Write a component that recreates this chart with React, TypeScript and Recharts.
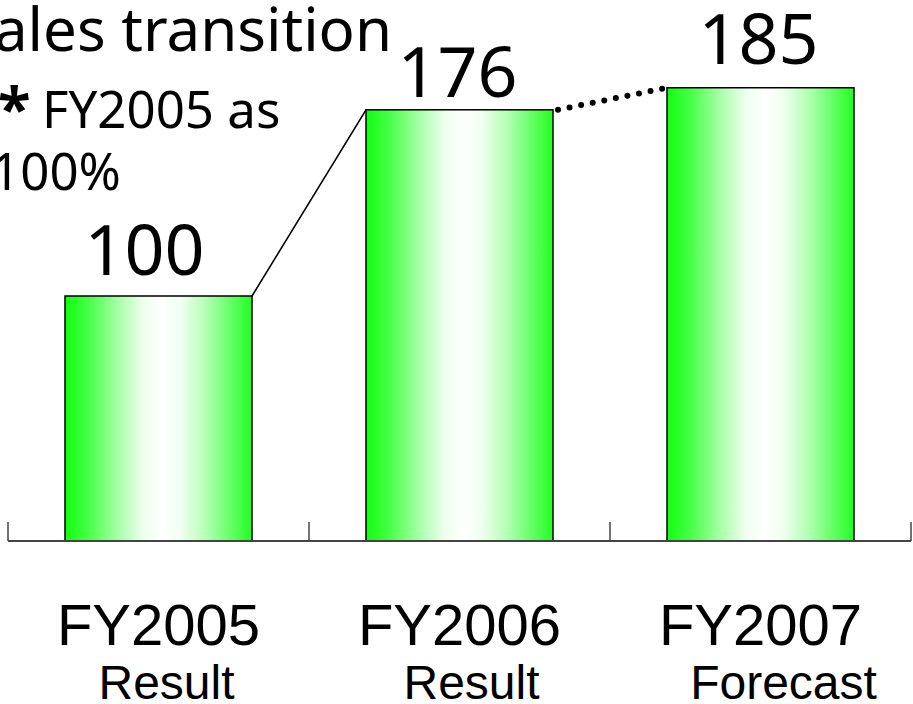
import React from "react";
import { BarChart, Bar, XAxis, YAxis, LabelList } from "recharts";

const years = ["FY2005", "FY2006", "FY2007"];
const kinds = ["Result", "Result", "Forecast"];
const sales = [100, 176, 185];

const data = years.map((year, i) => ({ year, kind: kinds[i], value: sales[i] }));

// small visual nudges for the texts (not data)
const labelShift = [-14, -2, -2];
const labelGap = [21, 13, 24];
const kindShift = [8, 12, 23];

const numFont = "'Noto Sans', 'DejaVu Sans', sans-serif";
const axisFont = "'Liberation Sans', Arial, sans-serif";

// top corners of the bars, filled while the bars are drawn
const tops: { x: number; y: number; w: number }[] = [];

const GradientBar = (props: any) => {
  const { x, y, width, height, index } = props;
  tops[index] = { x, y, w: width };
  const prev = index > 0 ? tops[index - 1] : null;
  return (
    <g>
      <rect
        x={x}
        y={y}
        width={width}
        height={height}
        fill="url(#barFill)"
        stroke="#000"
        strokeWidth={1.5}
      />
      {prev && (
        <line
          x1={prev.x + prev.w + (index === 2 ? 5 : 0)}
          y1={prev.y}
          x2={x}
          y2={y}
          stroke="#000"
          strokeWidth={index === 1 ? 1.6 : 6}
          strokeDasharray={index === 2 ? "0 11.8" : undefined}
          strokeLinecap="round"
        />
      )}
    </g>
  );
};

const ValueLabel = (props: any) => {
  const { x, y, width, value, index } = props;
  return (
    <text
      x={x + width / 2 + labelShift[index]}
      y={y - labelGap[index]}
      textAnchor="middle"
      fontFamily={numFont}
      fontSize={70}
      fill="#000"
    >
      {value}
    </text>
  );
};

const YearTick = (props: any) => {
  const { x, y, payload, index } = props;
  const half = payload.offset || 150.5;
  return (
    <g>
      <line x1={x - half} y1={y - 19} x2={x - half} y2={y} stroke="#444" strokeWidth={1.5} />
      {index === years.length - 1 && (
        <line x1={x + half} y1={y - 19} x2={x + half} y2={y} stroke="#444" strokeWidth={1.5} />
      )}
      <text x={x} y={y + 104} textAnchor="middle" fontFamily={axisFont} fontSize={58} fill="#000">
        {payload.value}
      </text>
      <text
        x={x + kindShift[index]}
        y={y + 158}
        textAnchor="middle"
        fontFamily={axisFont}
        fontSize={48}
        fill="#000"
      >
        {kinds[index]}
      </text>
    </g>
  );
};

const App = () => {
  return (
    <div style={{ position: "absolute", left: 0, top: 0, width: 913, height: 704, background: "#fff" }}>
      <BarChart
        width={913}
        height={704}
        data={data}
        margin={{ top: 2, right: 2, left: 8, bottom: 0 }}
      >
        <defs>
          <linearGradient id="barFill" x1="0" y1="0" x2="1" y2="0">
            <stop offset="0%" stopColor="#11ff11" />
            <stop offset="12%" stopColor="#44ff44" />
            <stop offset="30%" stopColor="#b0ffb0" />
            <stop offset="42%" stopColor="#eeffee" />
            <stop offset="52%" stopColor="#ffffff" />
            <stop offset="62%" stopColor="#f0fff0" />
            <stop offset="76%" stopColor="#b0ffb0" />
            <stop offset="90%" stopColor="#5cff5c" />
            <stop offset="100%" stopColor="#22ff22" />
          </linearGradient>
        </defs>
        <XAxis
          dataKey="year"
          height={163}
          interval={0}
          tickSize={0}
          tickMargin={0}
          tickLine={false}
          axisLine={{ stroke: "#444", strokeWidth: 2 }}
          tick={<YearTick />}
        />
        <YAxis hide domain={[0, 220]} />
        <Bar dataKey="value" barSize={187} shape={<GradientBar />} isAnimationActive={false}>
          <LabelList dataKey="value" content={<ValueLabel />} />
        </Bar>
        <text x={392} y={51} textAnchor="end" fontFamily={numFont} fontSize={60} fill="#000">
          Sales transition
        </text>
        <text x={-2} y={130} fontFamily={numFont} fontSize={60} fontWeight="bold" fill="#000">
          *
        </text>
        <text x={42} y={128} fontFamily={numFont} fontSize={51} fill="#000">
          FY2005 as
        </text>
        <text x={121} y={190} textAnchor="end" fontFamily={numFont} fontSize={51} fill="#000">
          100%
        </text>
      </BarChart>
    </div>
  );
};

export default App;
